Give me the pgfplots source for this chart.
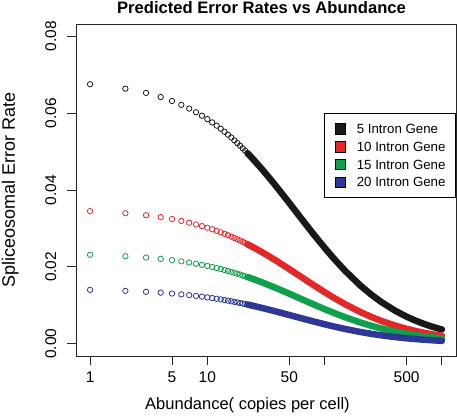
\documentclass[border=0pt]{standalone}
\usepackage{fontspec}
\setmainfont{Liberation Sans}
\usepackage{pgfplots}
\pgfplotsset{compat=1.18}
\definecolor{cblack}{RGB}{25,25,25}
\definecolor{cred}{RGB}{228,40,40}
\definecolor{cgreen}{RGB}{15,160,75}
\definecolor{cblue}{RGB}{45,55,150}
\pgfplotsset{
  pts/.style={only marks, mark=o, mark size=2.7pt, mark options={line width=0.8pt}, forget plot},
  band/.style={line width=6.5pt, line cap=round, line join=round, forget plot},
}
\begin{document}
\begin{tikzpicture}
\path[use as bounding box] (-76pt,-59pt) rectangle (381pt,356pt);
\begin{axis}[
  at={(0pt,0pt)}, anchor=south west,
  scale only axis, width=380pt, height=332pt,
  xmode=log, xmin=0.7586, xmax=1318, ymin=-0.0032, ymax=0.0832,
  xtick={1,5,10,50,100,500,1000}, xticklabels={1,5,10,50,,500,},
  ytick={0,0.02,0.04,0.06,0.08}, yticklabels={0.00,0.02,0.04,0.06,0.08},
  scaled y ticks=false,
  xminorticks=false,
  tick align=outside, xtick pos=bottom, ytick pos=left,
  major tick length=9pt,
  tick style={line width=0.9pt, black!85},
  axis line style={line width=0.9pt, black!85},
  xticklabel style={font=\fontsize{15.5}{16}\selectfont, anchor=base, yshift=-17pt},
  yticklabel style={font=\fontsize{15.5}{16}\selectfont, xshift=-11pt, rotate=90, anchor=base},
  legend style={at={(1,0.7319)}, anchor=north east, draw=black, line width=0.9pt, fill=white,
    font=\fontsize{13.3}{15}\selectfont, inner xsep=10pt, inner ysep=10pt, row sep=6.6pt,
    nodes={inner sep=0pt, text height=9.5pt, text depth=0pt},
    /tikz/every odd column/.append style={column sep=11pt}},
  legend cell align=left,
]
\addplot[band, cblack] coordinates {(22,0.04957) (23,0.04895) (24,0.04834) (25,0.04775) (30,0.04501) (35,0.04256) (40,0.04037) (50,0.03660) (60,0.03347) (70,0.03083) (80,0.02858) (100,0.02494) (120,0.02212) (150,0.01892) (200,0.01524) (250,0.01276) (300,0.01097) (400,0.00857) (500,0.00703) (600,0.00596) (700,0.00517) (800,0.00457) (900,0.00409) (1000,0.00370)};
\addplot[pts, cblack] coordinates {(1,0.06752) (2,0.06637) (3,0.06527) (4,0.06419) (5,0.06316) (6,0.06216) (7,0.06119) (8,0.06024) (9,0.05933) (10,0.05845) (11,0.05759) (12,0.05675) (13,0.05594) (14,0.05515) (15,0.05439) (16,0.05364) (17,0.05292) (18,0.05221) (19,0.05153) (20,0.05086) (21,0.05020) (22,0.04957) (23,0.04895) (24,0.04834) (25,0.04775)};
\addplot[band, cred] coordinates {(22,0.02587) (23,0.02557) (24,0.02527) (25,0.02498) (30,0.02362) (35,0.02240) (40,0.02131) (50,0.01940) (60,0.01781) (70,0.01646) (80,0.01530) (100,0.01341) (120,0.01194) (150,0.01025) (200,0.00829) (250,0.00697) (300,0.00600) (400,0.00470) (500,0.00387) (600,0.00328) (700,0.00285) (800,0.00252) (900,0.00226) (1000,0.00205)};
\addplot[pts, cred] coordinates {(1,0.03449) (2,0.03395) (3,0.03343) (4,0.03293) (5,0.03243) (6,0.03196) (7,0.03149) (8,0.03104) (9,0.03061) (10,0.03018) (11,0.02977) (12,0.02937) (13,0.02897) (14,0.02859) (15,0.02822) (16,0.02786) (17,0.02751) (18,0.02716) (19,0.02683) (20,0.02650) (21,0.02618) (22,0.02587) (23,0.02557) (24,0.02527) (25,0.02498)};
\addplot[band, cgreen] coordinates {(22,0.01735) (23,0.01714) (24,0.01694) (25,0.01675) (30,0.01584) (35,0.01502) (40,0.01428) (50,0.01301) (60,0.01194) (70,0.01104) (80,0.01026) (100,0.00899) (120,0.00801) (150,0.00687) (200,0.00556) (250,0.00467) (300,0.00402) (400,0.00315) (500,0.00259) (600,0.00220) (700,0.00191) (800,0.00169) (900,0.00151) (1000,0.00137)};
\addplot[pts, cgreen] coordinates {(1,0.02313) (2,0.02277) (3,0.02242) (4,0.02208) (5,0.02175) (6,0.02143) (7,0.02112) (8,0.02081) (9,0.02052) (10,0.02024) (11,0.01996) (12,0.01969) (13,0.01943) (14,0.01917) (15,0.01892) (16,0.01868) (17,0.01844) (18,0.01821) (19,0.01799) (20,0.01777) (21,0.01755) (22,0.01735) (23,0.01714) (24,0.01694) (25,0.01675)};
\addplot[band, cblue] coordinates {(22,0.01018) (23,0.01005) (24,0.00992) (25,0.00980) (30,0.00922) (35,0.00871) (40,0.00825) (50,0.00746) (60,0.00682) (70,0.00627) (80,0.00581) (100,0.00506) (120,0.00448) (150,0.00382) (200,0.00307) (250,0.00257) (300,0.00221) (400,0.00172) (500,0.00141) (600,0.00120) (700,0.00104) (800,0.00092) (900,0.00082) (1000,0.00074)};
\addplot[pts, cblue] coordinates {(1,0.01400) (2,0.01375) (3,0.01351) (4,0.01328) (5,0.01306) (6,0.01285) (7,0.01264) (8,0.01244) (9,0.01225) (10,0.01206) (11,0.01188) (12,0.01170) (13,0.01153) (14,0.01136) (15,0.01120) (16,0.01104) (17,0.01089) (18,0.01074) (19,0.01059) (20,0.01045) (21,0.01031) (22,0.01018) (23,0.01005) (24,0.00992) (25,0.00980)};
\addlegendimage{legend image code/.code={\draw[fill=cblack,draw=black,line width=0.5pt] (0pt,-5.3pt) rectangle (10.7pt,5.3pt);}}
\addlegendentry{5 Intron Gene}
\addlegendimage{legend image code/.code={\draw[fill=cred,draw=black,line width=0.5pt] (0pt,-5.3pt) rectangle (10.7pt,5.3pt);}}
\addlegendentry{10 Intron Gene}
\addlegendimage{legend image code/.code={\draw[fill=cgreen,draw=black,line width=0.5pt] (0pt,-5.3pt) rectangle (10.7pt,5.3pt);}}
\addlegendentry{15 Intron Gene}
\addlegendimage{legend image code/.code={\draw[fill=cblue,draw=black,line width=0.5pt] (0pt,-5.3pt) rectangle (10.7pt,5.3pt);}}
\addlegendentry{20 Intron Gene}
\end{axis}
\node[font=\bfseries\fontsize{16.6}{18}\selectfont, anchor=base] at (185.5pt,342.5pt) {Predicted Error Rates vs Abundance};
\node[font=\fontsize{16.5}{18}\selectfont, anchor=base] at (171.5pt,-53.3pt) {Abundance( copies per cell)};
\node[font=\fontsize{18}{20}\selectfont, rotate=90, anchor=base] at (-61pt,166pt) {Spliceosomal Error Rate};
\end{tikzpicture}
\end{document}
